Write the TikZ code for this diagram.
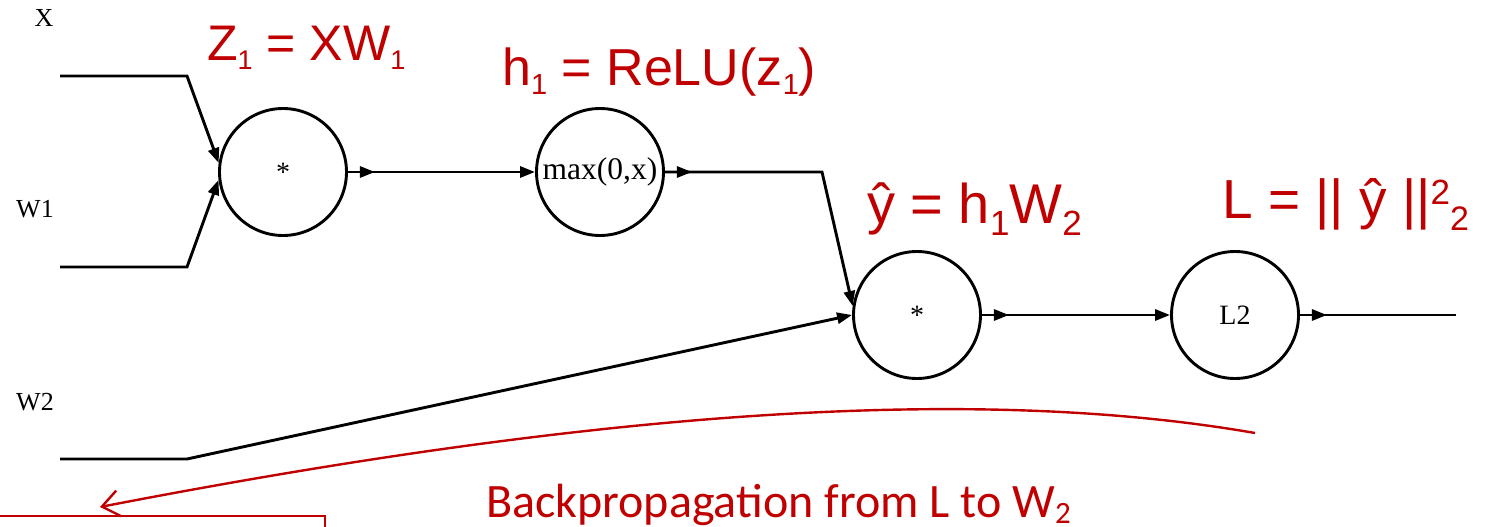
\documentclass[tikz,border=0pt]{standalone}
\usepackage{fontspec}
\setmainfont{Liberation Serif}
\newfontfamily\redfont{Liberation Sans}
\newfontfamily\calfont{Carlito}
\usetikzlibrary{arrows.meta,decorations.markings}
\definecolor{dred}{HTML}{C00000}
% #1 = vertical shift, #2 = font size, #3 = text
\newcommand\myscr[3]{\raisebox{#1}{\fontsize{#2}{#2}\selectfont #3}}
\tikzset{
  opnode/.style={draw, circle, line width=2.9pt, minimum size=127pt, inner sep=0pt,
    font=\fontsize{28}{28}\selectfont},
  blabel/.style={font=\fontsize{26}{26}\selectfont, inner sep=0pt},
  rlabel/.style={text=dred, inner sep=0pt, anchor=base west},
  edge/.style={line width=2.9pt, line join=miter},
  tip/.style={-{Triangle[length=15pt,width=11pt]}},
  srcmark/.style={postaction={decorate}, decoration={markings,
    mark=at position 27pt with {\arrow{Triangle[length=15pt,width=11pt]}}}},
  redarrow/.style={draw=dred, line width=2.4pt, -{Straight Barb[length=17pt,width=26pt,line width=2.4pt]}},
}
\begin{document}
\begin{tikzpicture}[x=1pt,y=-1pt]
\useasboundingbox (0,0) rectangle (1491,527);
% labels
\node[blabel] (lx) at (44,18) {X};
\node[blabel] (lw1) at (35,209) {W1};
\node[blabel] (lw2) at (35,402) {W2};
% operation nodes
\node[opnode] (c1) at (283,172) {*};
\node[opnode] (c2) at (600,172) {\fontsize{31.5}{31.5}\selectfont max(0,x)};
\node[opnode] (c3) at (917,315) {*};
\node[opnode] (c4) at (1235,315) {L2};
% coordinates
\coordinate (xs) at (60,76);
\coordinate (xb) at (187,76);
\coordinate (w1s) at (60,267);
\coordinate (w1b) at (187,267);
\coordinate (w2s) at (60,459);
\coordinate (w2b) at (187,459);
\coordinate (k) at (822,172);
\coordinate (out) at (1456,315);
% edges
\draw[edge,tip] (xs) -- (xb) -- (c1.172);
\draw[edge,tip] (w1s) -- (w1b) -- (c1.187);
\draw[edge,tip,srcmark] (c1) -- (c2);
\draw[edge,tip,srcmark] (c2.east) -- (k) -- (c3.172);
\draw[edge,tip] (w2s) -- (w2b) -- (c3.180);
\draw[edge,tip,srcmark] (c3) -- (c4);
\draw[edge,srcmark] (c4) -- (out);
% red labels
\node[rlabel, font=\redfont\fontsize{50}{50}\selectfont] (z1) at (207,61)
  {Z\myscr{-9pt}{27}{1} = XW\myscr{-9pt}{27}{1}};
\node[rlabel, font=\redfont\fontsize{52}{52}\selectfont] (h1) at (502,85)
  {h\myscr{-9pt}{29}{1} = ReLU(z\myscr{-9pt}{29}{1})};
\node[rlabel, font=\redfont\fontsize{56}{56}\selectfont] (yh) at (867,223)
  {ŷ = h\myscr{-12pt}{35}{1}W\myscr{-12pt}{35}{2}};
\node[rlabel, font=\redfont\fontsize{55}{55}\selectfont] (ll) at (1222,218)
  {L = || ŷ ||\myscr{14pt}{35}{2}\myscr{-12pt}{34}{2}};
% backprop arrow
\coordinate (bs) at (1255,433);
\coordinate (be) at (100,507);
\draw[redarrow] (bs) .. controls (950,380) and (550,420) .. (be);
\node[rlabel, font=\calfont\fontsize{48}{48}\selectfont] (bp) at (486,517)
  {Backpropagation from L to W\myscr{-6pt}{31}{2}};
% red box
\coordinate (r1) at (0,516);
\coordinate (r2) at (325,516);
\coordinate (r3) at (325,540);
\draw[dred, line width=1.8pt] (r1) -- (r2) -- (r3);
\end{tikzpicture}
\end{document}
